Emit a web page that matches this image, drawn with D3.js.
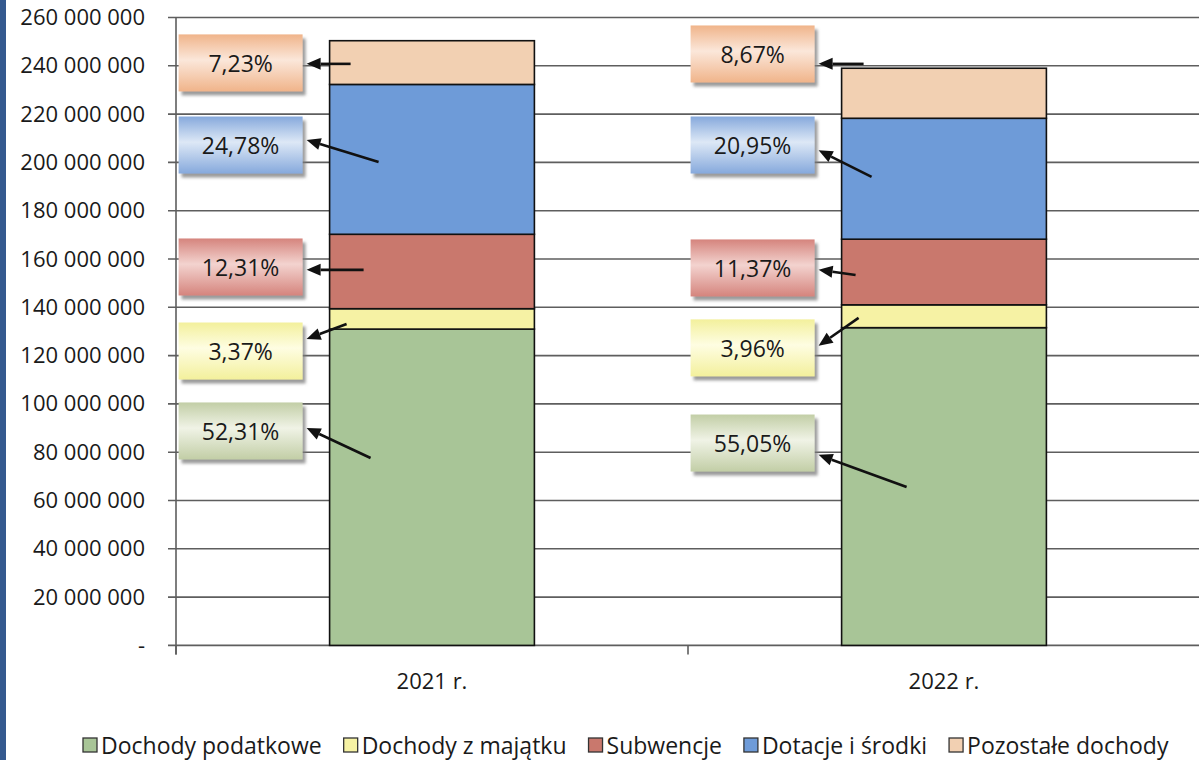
<!DOCTYPE html>
<html><head><meta charset="utf-8">
<script src="https://cdn.jsdelivr.net/npm/d3@7"></script>
<style>
body{margin:0;background:#fff}
svg{display:block}
text{font-family:"Open Sans",sans-serif;fill:#1a1a1a}
</style>
</head><body>
<svg id="c" width="1199" height="760"></svg>
<script>
// ---- data ----
const categories = ["2021 r.", "2022 r."];
const seriesNames = ["Dochody podatkowe", "Dochody z majątku", "Subwencje", "Dotacje i środki", "Pozostałe dochody"];
const podatkowe = [130980000, 131570000];
const majatek   = [8440000, 9460000];
const subwencje = [30820000, 27170000];
const dotacje   = [62050000, 50070000];
const pozostale = [18100000, 20720000];
const shares2021 = ["52,31%", "3,37%", "12,31%", "24,78%", "7,23%"];
const shares2022 = ["55,05%", "3,96%", "11,37%", "20,95%", "8,67%"];
const yTickValues = [0, 20e6, 40e6, 60e6, 80e6, 100e6, 120e6, 140e6, 160e6, 180e6, 200e6, 220e6, 240e6, 260e6];

// ---- layout / style (not data) ----
const colors = ["#a8c597", "#f6f2a4", "#c9786d", "#6e9bd8", "#f2d0b2"];
const boxGrad = [
  ["#c2cea6", "#f0f3e6"],
  ["#f3f09c", "#fefde2"],
  ["#d5847d", "#f3d3cf"],
  ["#86a9dc", "#dde8f6"],
  ["#f0b48a", "#fbe7da"]
];
// label box centre (value units), arrow head y (value), arrow tail (px from bar left, value)
const annot = [
  { labelY: [88.8e6, 121.9e6, 156.7e6, 207.2e6, 241.2e6],
    headY:  [90.0e6, 126.9e6, 155.5e6, 209.3e6, 240.8e6],
    tailDx: [41, 17, 34, 49, 21],
    tailY:  [77.6e6, 133.1e6, 155.5e6, 200.2e6, 240.8e6] },
  { labelY: [83.8e6, 123.2e6, 156.3e6, 207.2e6, 244.9e6],
    headY:  [78.9e6, 124.1e6, 155.5e6, 205.0e6, 240.8e6],
    tailDx: [65, 17, 14, 30, 22],
    tailY:  [65.6e6, 135.6e6, 153.4e6, 194.0e6, 240.8e6] }
];

const svg = d3.select("#c");
const W = 1199, H = 760;
const plot = { left: 176, right: 1200, top: 17.5, bottom: 645.4 };

svg.append("rect").attr("width", W).attr("height", H).attr("fill", "#fff");
svg.append("rect").attr("x", 0).attr("y", 0).attr("width", 6).attr("height", H).attr("fill", "#34598f");

const defs = svg.append("defs");
const shadow = defs.append("filter").attr("id", "sh").attr("x", "-20%").attr("y", "-20%").attr("width", "150%").attr("height", "160%");
shadow.append("feDropShadow").attr("dx", 3).attr("dy", 4).attr("stdDeviation", 1.5).attr("flood-color", "#7a7a7a").attr("flood-opacity", 0.75);
boxGrad.forEach((g, i) => {
  const lg = defs.append("linearGradient").attr("id", "bg" + i).attr("x1", 0).attr("y1", 0).attr("x2", 0).attr("y2", 1);
  lg.append("stop").attr("offset", "0%").attr("stop-color", g[0]);
  lg.append("stop").attr("offset", "45%").attr("stop-color", g[1]);
  lg.append("stop").attr("offset", "100%").attr("stop-color", g[0]);
});

const y = d3.scaleLinear().domain([0, 260e6]).range([plot.bottom, plot.top]);
const x = d3.scaleBand().domain(categories).range([plot.left, plot.right]).paddingInner(0.6).paddingOuter(0.3);
const xSep = d3.scaleBand().domain(categories).range([plot.left, plot.right]).padding(0);

const loc = d3.formatLocale({ decimal: ",", thousands: "\u00a0", grouping: [3], currency: ["", ""] });
const fmt = v => v === 0 ? "-" : loc.format(",")(v);

// gridlines
svg.append("g").selectAll("line").data(yTickValues).join("line")
  .attr("x1", plot.left - 8).attr("x2", W)
  .attr("y1", d => y(d)).attr("y2", d => y(d))
  .attr("stroke", "#5e5e5e").attr("stroke-width", 1.6);

// y axis
const yAxis = svg.append("g").attr("transform", `translate(${plot.left},0)`)
  .call(d3.axisLeft(y).tickValues(yTickValues).tickFormat(fmt).tickSize(0).tickPadding(31));
yAxis.select(".domain").remove();
yAxis.selectAll("text").attr("font-size", 22).attr("fill", "#1a1a1a").style("font-family", "'Open Sans',sans-serif");
svg.append("line").attr("x1", plot.left).attr("x2", plot.left).attr("y1", plot.top).attr("y2", plot.bottom + 9)
  .attr("stroke", "#5e5e5e").attr("stroke-width", 1.6);

// category separator ticks
const sepX = [plot.left].concat(categories.map(c => xSep(c) + xSep.bandwidth()));
svg.append("g").selectAll("line").data(sepX).join("line")
  .attr("x1", d => d).attr("x2", d => d).attr("y1", plot.bottom).attr("y2", plot.bottom + 9)
  .attr("stroke", "#5e5e5e").attr("stroke-width", 1.6);

// stacked bars
const rows = categories.map((c, i) => ({
  cat: c,
  "Dochody podatkowe": podatkowe[i],
  "Dochody z majątku": majatek[i],
  "Subwencje": subwencje[i],
  "Dotacje i środki": dotacje[i],
  "Pozostałe dochody": pozostale[i]
}));
const stacked = d3.stack().keys(seriesNames)(rows);
const color = d3.scaleOrdinal().domain(seriesNames).range(colors);

svg.append("g").selectAll("g").data(stacked).join("g")
  .attr("fill", d => color(d.key))
  .selectAll("rect").data(d => d).join("rect")
  .attr("x", d => x(d.data.cat)).attr("width", x.bandwidth())
  .attr("y", d => y(d[1])).attr("height", d => y(d[0]) - y(d[1]))
  .attr("stroke", "#111").attr("stroke-width", 1.6);

// x labels
svg.append("g").selectAll("text").data(categories).join("text")
  .attr("x", d => x(d) + x.bandwidth() / 2).attr("y", 680)
  .attr("text-anchor", "middle").attr("dominant-baseline", "central")
  .attr("font-size", 22).text(d => d);

// annotations
const shares = [shares2021, shares2022];
const boxW = 124, boxH = 57;
const headLen = 14, headHalf = 6;
categories.forEach((c, ci) => {
  const bx = x(c);
  const boxRight = bx - 27;
  const g = svg.append("g");
  seriesNames.forEach((s, si) => {
    const cy = y(annot[ci].labelY[si]);
    g.append("rect").attr("x", boxRight - boxW).attr("y", cy - boxH / 2)
      .attr("width", boxW).attr("height", boxH)
      .attr("fill", `url(#bg${si})`).attr("filter", "url(#sh)");
    g.append("text").attr("x", boxRight - boxW / 2).attr("y", cy)
      .attr("text-anchor", "middle").attr("dominant-baseline", "central")
      .attr("font-size", 23).text(shares[ci][si]);
    const tx = bx + annot[ci].tailDx[si], ty = y(annot[ci].tailY[si]);
    const hx = boxRight + 4, hy = y(annot[ci].headY[si]);
    const ang = Math.atan2(hy - ty, hx - tx);
    const bxp = hx - headLen * Math.cos(ang), byp = hy - headLen * Math.sin(ang);
    g.append("line").attr("x1", tx).attr("y1", ty).attr("x2", bxp).attr("y2", byp)
      .attr("stroke", "#111").attr("stroke-width", 2.6);
    const px = -Math.sin(ang) * headHalf, py = Math.cos(ang) * headHalf;
    g.append("path")
      .attr("d", `M${hx},${hy} L${bxp + px},${byp + py} L${bxp - px},${byp - py} Z`)
      .attr("fill", "#111");
  });
});

// legend
const legendItems = seriesNames.map((s, i) => ({ name: s, color: colors[i] }));
const lg = svg.append("g").attr("transform", "translate(83,745)");
let lx = 0;
legendItems.forEach(d => {
  const it = lg.append("g").attr("transform", `translate(${lx},0)`);
  it.append("rect").attr("x", 0).attr("y", -7).attr("width", 14).attr("height", 14)
    .attr("fill", d.color).attr("stroke", "#333").attr("stroke-width", 1.3);
  const t = it.append("text").attr("x", 18).attr("y", 0).attr("dominant-baseline", "central")
    .attr("font-size", 23).text(d.name);
  lx += 18 + t.node().getComputedTextLength() + 22;
});
</script>
</body></html>
